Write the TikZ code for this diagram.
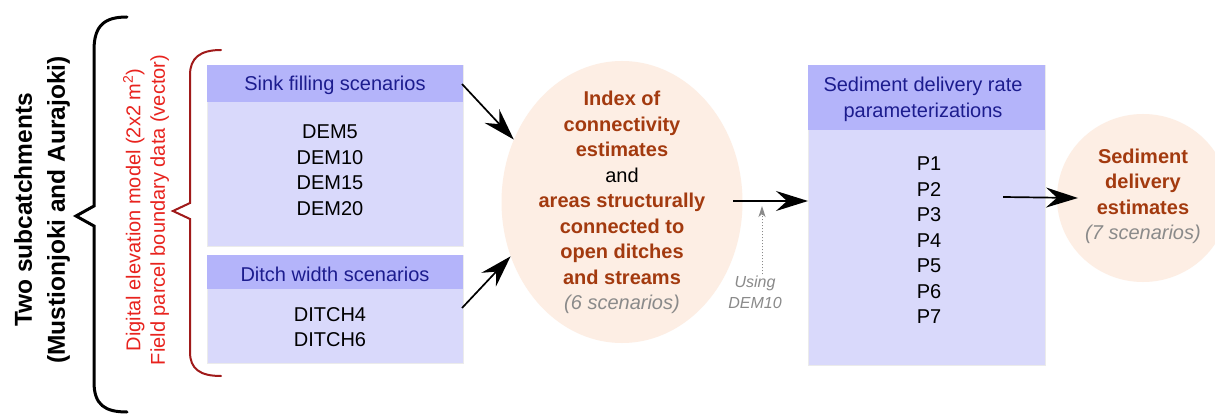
\documentclass[tikz,border=0pt]{standalone}
\usepackage{fontspec}
\setmainfont{Liberation Sans}
\usetikzlibrary{arrows.meta,shapes.geometric,calc}
\definecolor{hdr}{HTML}{B4B4FA}
\definecolor{bdy}{HTML}{D9D9FB}
\definecolor{hdrtxt}{HTML}{1C1C8E}
\definecolor{ellfill}{HTML}{FDEEE4}
\definecolor{elltxt}{HTML}{A33A0F}
\definecolor{graytxt}{HTML}{8A8A8A}
\definecolor{redtxt}{HTML}{E8231E}
\definecolor{redbrace}{HTML}{A01A1A}
\tikzset{
  bodybox/.style={fill=bdy, draw=black!8, line width=0.8pt, inner sep=0pt},
  hdrbox/.style={fill=hdr, inner sep=0pt},
  hdrtext/.style={text=hdrtxt, font=\fontsize{20}{25.5}\selectfont, align=center, inner sep=0pt},
  listtext/.style={text=black, font=\fontsize{20}{25.5}\selectfont, align=center, inner sep=0pt},
  ellshape/.style={ellipse, fill=ellfill, inner sep=0pt},
  elltext/.style={font=\fontsize{20}{25.5}\selectfont, align=center, inner sep=0pt},
  bigarrow/.style={-{Stealth[length=32pt,width=20pt,inset=11pt]}, line width=1.7pt, black},
  dotarrow/.style={-{Stealth[length=11pt,width=7pt,inset=3pt]}, dotted, line width=1pt, graytxt},
}
\newcommand{\bt}[1]{\textcolor{elltxt}{\textbf{#1}}}
\begin{document}
\begin{tikzpicture}[x=1pt,y=-1pt]
\useasboundingbox (0,0) rectangle (1215,414);
\fill[white] (0,0) rectangle (1215,414);

% Left braces
\draw[line width=3pt, black, line cap=round, line join=miter]
  (127,17) .. controls (105,17) and (94,25) .. (94,50)
  -- (94,206) -- (76,216) -- (94,226)
  -- (94,382) .. controls (94,405) and (105,412) .. (127,412);
\draw[line width=2pt, redbrace, line cap=round]
  (221,50) .. controls (200,50) and (190,58) .. (190,75)
  -- (190,203) -- (173,211) -- (190,219)
  -- (190,352) .. controls (190,369) and (200,376) .. (221,376);

% Rotated texts
\node[rotate=90, align=center, inner sep=0pt, font=\fontsize{24.5}{33}\selectfont\bfseries] (catch) at (42,210)
  {Two subcatchments\\(Mustionjoki and Aurajoki)};
\node[rotate=90, align=center, inner sep=0pt, text=redtxt, font=\fontsize{20}{24.5}\selectfont] (inputs) at (146,210)
  {Digital elevation model (2x2 m\textsuperscript{2})\\Field parcel boundary data (vector)};

% Box 1: sink filling
\node[bodybox, minimum width=256pt, minimum height=181pt] (sink) at (335,155.5) {};
\node[hdrbox, minimum width=256pt, minimum height=37pt] (sinkh) at (335,83.5) {};
\node[hdrtext] (sinkht) at (335,85) {Sink filling scenarios};
\node[listtext] (sinkt) at (330,170) {DEM5\\DEM10\\DEM15\\DEM20};

% Box 2: ditch width
\node[bodybox, minimum width=256pt, minimum height=108pt] (ditch) at (335,309) {};
\node[hdrbox, minimum width=256pt, minimum height=34pt] (ditchh) at (335,272) {};
\node[hdrtext] (ditchht) at (335,274) {Ditch width scenarios};
\node[listtext] (ditcht) at (330,327) {DITCH4\\DITCH6};

% Ellipse 1
\node[ellshape, minimum width=241pt, minimum height=282pt] (ell1) at (622,202) {};
\node[elltext] (ell1t) at (622,202.5)
  {\bt{Index of}\\\bt{connectivity}\\\bt{estimates}\\and\\\bt{areas structurally}\\\bt{connected to}\\\bt{open ditches}\\\bt{and streams}\\\textcolor{graytxt}{\itshape (6 scenarios)}};

% Box 3
\node[bodybox, minimum width=237pt, minimum height=300pt] (sdr) at (926.5,215) {};
\node[hdrbox, minimum width=237pt, minimum height=65pt] (sdrh) at (926.5,97.5) {};
\node[hdrtext] (sdrht) at (923,99.5) {Sediment delivery rate\\parameterizations};
\node[listtext] (sdrt) at (929,240.5) {P1\\P2\\P3\\P4\\P5\\P6\\P7};

% Ellipse 2
\node[ellshape, minimum width=172pt, minimum height=168pt] (ell2) at (1143,198) {};
\node[elltext] (ell2t) at (1143,196.5)
  {\bt{Sediment}\\\bt{delivery}\\\bt{estimates}\\\textcolor{graytxt}{\itshape (7 scenarios)}};

% Using DEM10
\node[align=center, inner sep=0pt, text=graytxt, font=\fontsize{16}{21}\selectfont\itshape] (using) at (755,292) {Using\\DEM10};
\coordinate (usetip) at (762,206);
\draw[dotarrow] (using.north -| usetip) ++(0,-1) -- (usetip);

% Arrows
\coordinate (a1s) at (462,84);
\coordinate (a2s) at (462,308);
\draw[bigarrow] (a1s) -- (ell1.150);
\draw[bigarrow] (a2s) -- (ell1.206);
\coordinate (a3s) at (733,201);
\coordinate (a3e) at (808,201);
\draw[bigarrow] (a3s) -- (a3e);
\coordinate (a4s) at (1003,197);
\coordinate (a4e) at (1078,198);
\draw[bigarrow] (a4s) -- (a4e);
\end{tikzpicture}
\end{document}
